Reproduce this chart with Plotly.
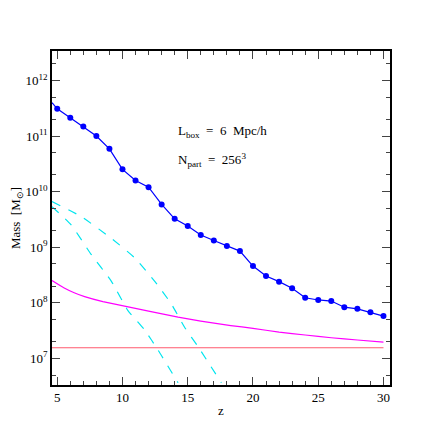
import plotly.graph_objects as go

z_pts = [5,6,7,8,9,10,11,12,13,14,15,16,17,18,19,20,21,22,23,24,25,26,27,28,29,30]
logm_pts = [11.49,11.33,11.17,11.0,10.77,10.4,10.2,10.08,9.77,9.51,9.38,9.22,9.12,9.02,8.93,8.66,8.48,8.38,8.26,8.09,8.05,8.03,7.92,7.89,7.83,7.76]
z_start = [4.6, 5]
logm_start = [11.6, 11.49]
z_mag = [4.6,5.5,6.3,7.1,8.5,10.16,12,14.26,16,18.3,20,22,24,26,28,30]
logm_mag = [8.40,8.27,8.18,8.11,8.02,7.94,7.85,7.74,7.67,7.59,7.54,7.47,7.42,7.37,7.33,7.29]
z_red = [4.6, 30]
logm_red = [7.19, 7.19]
z_c1 = [4.6,6.84,9.14,10.93,12.46,13.74,14.76,15.79,17.58]
logm_c1 = [9.82,9.55,9.16,8.81,8.39,7.98,7.56,7.21,6.56]
z_c2 = [4.6,6.07,7.6,9.14,10.42,11.7,12.72,14.26]
logm_c2 = [9.73,9.40,8.87,8.39,7.86,7.51,7.15,6.56]

p = lambda a: [10**v for v in a]
fig = go.Figure()
fig.add_trace(go.Scatter(x=z_start, y=p(logm_start), mode="lines", line=dict(color="#0000ff", width=1.2)))
fig.add_trace(go.Scatter(x=z_pts, y=p(logm_pts), mode="lines+markers", line=dict(color="#0000ff", width=1.2), marker=dict(size=6, color="#0000ff")))
fig.add_trace(go.Scatter(x=z_mag, y=p(logm_mag), mode="lines", line=dict(color="#ff00ff", width=1.2, shape="spline", smoothing=0.3)))
fig.add_trace(go.Scatter(x=z_red, y=p(logm_red), mode="lines", line=dict(color="#ff5a6e", width=1.2)))
fig.add_trace(go.Scatter(x=z_c1, y=p(logm_c1), mode="lines", line=dict(color="#00e5ee", width=1.2, dash="dash", shape="spline", smoothing=0.5)))
fig.add_trace(go.Scatter(x=z_c2, y=p(logm_c2), mode="lines", line=dict(color="#00e5ee", width=1.2, dash="dash", shape="spline", smoothing=0.5)))

fnt = dict(family="Liberation Serif", size=13, color="black")
ytv = [1e7,1e8,1e9,1e10,1e11,1e12]
ytt = ["10<sup>%d</sup>" % e for e in range(7,13)]
fig.update_layout(
    width=436, height=436, showlegend=False,
    plot_bgcolor="white", paper_bgcolor="white",
    margin=dict(l=44, r=54, t=43, b=59),
    font=fnt,
    xaxis=dict(range=[4.6,30.5], tickvals=[5,10,15,20,25,30], ticks="inside", ticklen=8,
               tickfont=fnt, automargin=False,
               minor=dict(dtick=1, ticks="inside", ticklen=4), mirror="allticks",
               showline=True, linecolor="black", linewidth=1.5, showgrid=False, zeroline=False,
               title=dict(text="z", standoff=2, font=fnt)),
    yaxis=dict(type="log", range=[6.52,12.53], tickvals=ytv, ticktext=ytt, ticks="inside", ticklen=8,
               tickfont=fnt, automargin=False,
               minor=dict(ticks="inside", ticklen=4), mirror="allticks",
               showline=True, linecolor="black", linewidth=1.5, showgrid=False, zeroline=False,
               title=dict(text="Mass  [M<sub>⊙</sub>]", standoff=2, font=fnt)),
    annotations=[
        dict(x=0.367, y=0.76, xref="paper", yref="paper", xanchor="left", yanchor="middle", showarrow=False,
             text="L<sub>box</sub>  =  6  Mpc/h", font=fnt),
        dict(x=0.367, y=0.674, xref="paper", yref="paper", xanchor="left", yanchor="middle", showarrow=False,
             text="N<sub>part</sub>  =  256<sup>3</sup>", font=fnt),
    ],
)
fig.write_html("out.html")
